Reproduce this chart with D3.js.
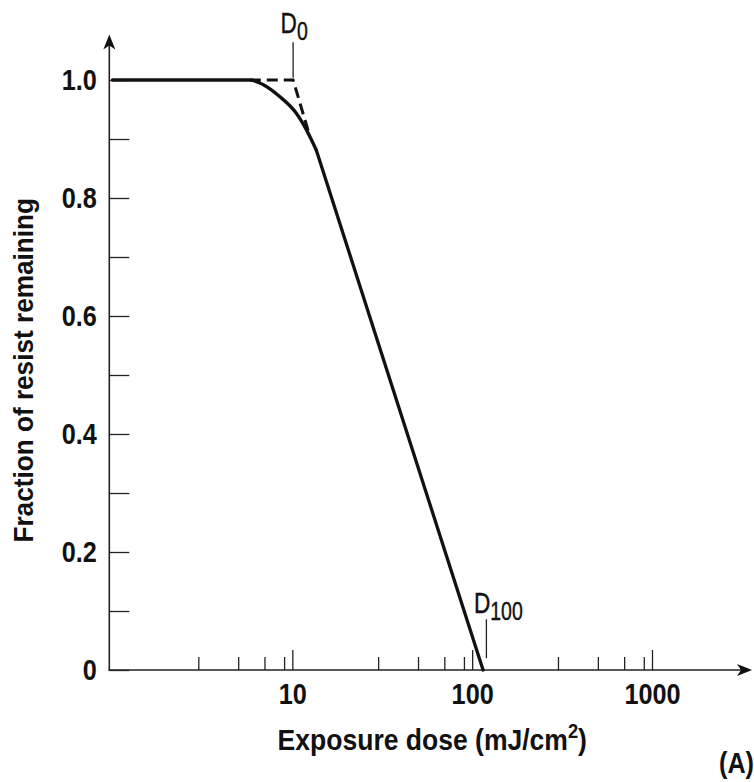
<!DOCTYPE html>
<html>
<head>
<meta charset="utf-8">
<script src="https://cdn.jsdelivr.net/npm/d3@7"></script>
<style>
  body { margin: 0; background: #fff; }
  text { font-family: "Liberation Sans", Arial, sans-serif; fill: #111; }
</style>
</head>
<body>
<div id="chart"></div>
<script>
// tick values / labels
var doseTicks = [10, 100, 1000];
var doseMinorTicks = [3, 5, 7, 9, 30, 50, 70, 90, 300, 500, 700, 900];
var fractionTicks = [0, 0.2, 0.4, 0.6, 0.8, 1.0];
var fractionTickLabels = ["0", "0.2", "0.4", "0.6", "0.8", "1.0"];
var fractionMinorTicks = [0.1, 0.3, 0.5, 0.7, 0.9];

// solid response curve: rounded shoulder, then the straight slope
var shoulderDose = [1, 5.8, 6.9, 8.5, 10.5, 12.0, 13.6];
var shoulderFraction = [1, 1, 0.992, 0.972, 0.944, 0.915, 0.881];
var slopeDose = [13.6, 115];
var slopeFraction = [0.881, 0];

// dashed extrapolation to D0
var extrapDose = [5.8, 10.1, 12.3];
var extrapFraction = [1, 1, 0.912];

var d0Dose = 10.1;
var d100Dose = 120;

// the original type is a condensed face, squeeze Liberation Sans to match
var squeeze = 0.87;

// Part 1: svg + scales
// ==============================
var svgWidth = 754, svgHeight = 782;
var margin = { top: 80, right: 102, bottom: 112, left: 112.5 };

var svg = d3.select("#chart").append("svg")
  .attr("width", svgWidth)
  .attr("height", svgHeight);

var x = d3.scaleLog()
  .domain([1, 1000])
  .range([margin.left, svgWidth - margin.right]);

var y = d3.scaleLinear()
  .domain([0, 1])
  .range([svgHeight - margin.bottom, margin.top]);

var axisX0 = x(0.96);      // where the y axis stands
var axisXEnd = x(3600);    // x-axis arrow tip
var axisYTop = y(1.077);   // y-axis arrow tip

// Part 2: axes
// ==============================
var xAxisG = svg.append("g")
  .attr("transform", "translate(0," + y(0) + ")");

xAxisG.append("g")
  .call(d3.axisBottom(x).tickValues(doseMinorTicks).tickSize(-13).tickFormat(""))
  .call(g => g.select(".domain").remove());

xAxisG.append("g")
  .call(d3.axisBottom(x).tickValues(doseTicks).tickSize(-20).tickPadding(13)
    .tickFormat(d3.format("d")))
  .call(g => g.select(".domain").remove())
  .selectAll("text")
  .attr("font-size", 29).attr("font-weight", "bold")
  .attr("font-family", "Liberation Sans, Arial, sans-serif")
  .attr("transform", "scale(" + squeeze + ",1)");

var yAxisG = svg.append("g")
  .attr("transform", "translate(" + axisX0 + ",0)");

yAxisG.append("g")
  .call(d3.axisLeft(y).tickValues(fractionMinorTicks).tickSize(-20).tickFormat(""))
  .call(g => g.select(".domain").remove());

yAxisG.append("g")
  .call(d3.axisLeft(y).tickValues(fractionTicks).tickSize(-20)
    .tickFormat((d, i) => fractionTickLabels[i]))
  .call(g => g.select(".domain").remove())
  .selectAll("text")
  .attr("x", 0)
  .attr("transform", "translate(-12.5,0) scale(" + squeeze + ",1)")
  .attr("font-size", 29).attr("font-weight", "bold")
  .attr("font-family", "Liberation Sans, Arial, sans-serif");

svg.selectAll(".tick line").attr("stroke", "#222").attr("stroke-width", 1.3);

// axis lines with arrowheads
svg.append("line")
  .attr("x1", axisX0 - 1).attr("x2", axisXEnd - 4)
  .attr("y1", y(0)).attr("y2", y(0))
  .attr("stroke", "#222").attr("stroke-width", 1.6);

svg.append("line")
  .attr("x1", axisX0).attr("x2", axisX0)
  .attr("y1", y(0)).attr("y2", axisYTop + 4)
  .attr("stroke", "#222").attr("stroke-width", 1.6);

svg.append("path")
  .attr("d", "M0,0 L-15,-6 L-11,0 L-15,6 Z")
  .attr("transform", "translate(" + axisXEnd + "," + y(0) + ")")
  .attr("fill", "#111");

svg.append("path")
  .attr("d", "M0,0 L-15,-6 L-11,0 L-15,6 Z")
  .attr("transform", "translate(" + axisX0 + "," + axisYTop + ") rotate(-90)")
  .attr("fill", "#111");

// Part 3: curves
// ==============================
var shoulder = shoulderDose.map((d, i) => [d, shoulderFraction[i]]);
var slope = slopeDose.map((d, i) => [d, slopeFraction[i]]);
var extrap = extrapDose.map((d, i) => [d, extrapFraction[i]]);

var lineSmooth = d3.line().x(d => x(d[0])).y(d => y(d[1])).curve(d3.curveMonotoneX);
var lineStraight = d3.line().x(d => x(d[0])).y(d => y(d[1]));

svg.append("path")
  .attr("d", lineStraight(extrap))
  .attr("fill", "none").attr("stroke", "#111")
  .attr("stroke-width", 3).attr("stroke-dasharray", "11,6");

svg.append("path")
  .attr("d", lineSmooth(shoulder))
  .attr("fill", "none").attr("stroke", "#111")
  .attr("stroke-width", 3.3).attr("stroke-linecap", "round");

svg.append("path")
  .attr("d", lineStraight(slope))
  .attr("fill", "none").attr("stroke", "#111")
  .attr("stroke-width", 3.3).attr("stroke-linecap", "round");

// Part 4: D0 / D100 markers
// ==============================
svg.append("line")
  .attr("x1", x(d0Dose)).attr("x2", x(d0Dose))
  .attr("y1", y(1.064)).attr("y2", y(1.004))
  .attr("stroke", "#222").attr("stroke-width", 1.3);

svg.append("line")
  .attr("x1", x(d100Dose)).attr("x2", x(d100Dose))
  .attr("y1", y(0.086)).attr("y2", y(0.02))
  .attr("stroke", "#222").attr("stroke-width", 1.3);

function dLabel(dose, frac, sub) {
  var t = svg.append("text")
    .attr("transform", "translate(" + (x(dose) - 12.5) + "," + y(frac) + ") scale(0.78,1)")
    .attr("font-size", 29)
    .attr("stroke", "#111").attr("stroke-width", 0.4);
  t.append("tspan").text("D");
  t.append("tspan").attr("font-size", 25).attr("dy", 7).text(sub);
}
dLabel(d0Dose, 1.08, "0");
dLabel(d100Dose, 0.097, "100");

// Part 5: axis titles
// ==============================
var xTitle = svg.append("text")
  .attr("transform", "translate(" + x(60) + ",750) scale(0.915,1)")
  .attr("text-anchor", "middle")
  .attr("font-size", 29).attr("font-weight", "bold");
xTitle.append("tspan").text("Exposure dose (mJ/cm");
xTitle.append("tspan").attr("font-size", 20).attr("dy", -12).text("2");
xTitle.append("tspan").attr("dy", 12).text(")");

svg.append("text")
  .attr("transform", "translate(33," + y(0.508) + ") rotate(-90) scale(0.935,1)")
  .attr("text-anchor", "middle")
  .attr("font-size", 28).attr("font-weight", "bold")
  .text("Fraction of resist remaining");

svg.append("text")
  .attr("transform", "translate(719,773) scale(" + squeeze + ",1)")
  .attr("font-size", 29).attr("font-weight", "bold")
  .text("(A)");
</script>
</body>
</html>
